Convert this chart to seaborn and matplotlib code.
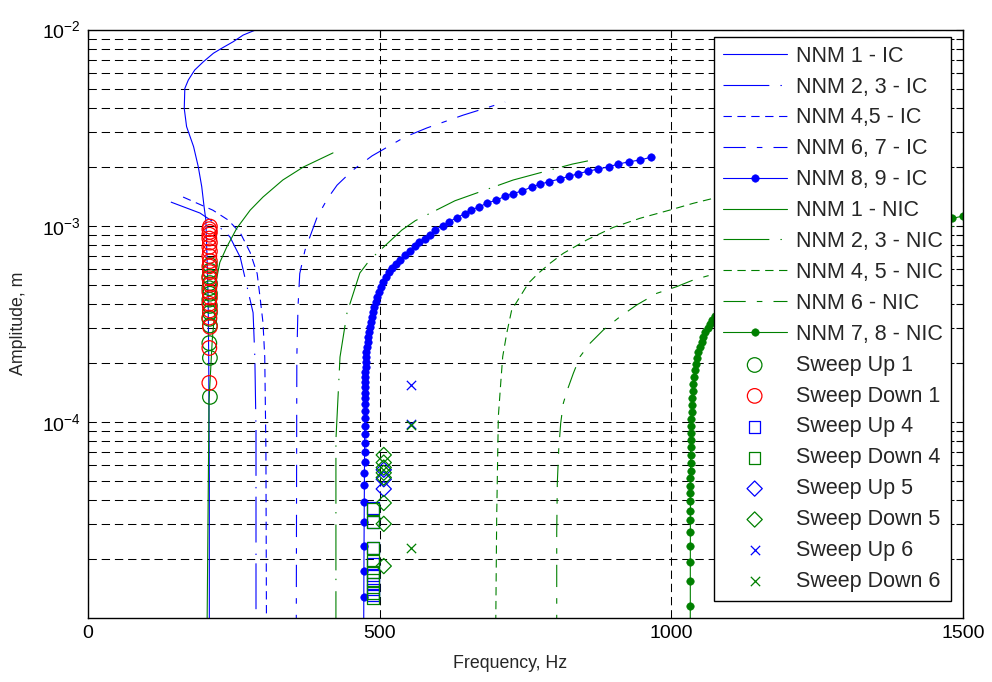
import matplotlib
matplotlib.use("Agg")
import matplotlib.pyplot as plt
import seaborn as sns
import numpy as np
from matplotlib.ticker import FixedLocator, NullFormatter, LogFormatterSciNotation, LogLocator

# ---------------------------------------------------------------
# Backbone curves of the nonlinear normal modes (frequency in Hz,
# response amplitude in m).  IC = internal coupling, NIC = none.
# ---------------------------------------------------------------
nnm1_ic_freq = [208, 208, 207, 206, 204, 202, 199, 195, 189, 181, 169, 165, 166, 172,
                183, 198, 215, 229, 249, 266, 289]
nnm1_ic_amp = [8e-6, 5e-5, 2e-4, 4.2e-4, 7e-4, 1.07e-3, 1.25e-3, 1.58e-3, 2.0e-3, 2.53e-3,
               3.2e-3, 3.96e-3, 5.01e-3, 5.53e-3, 6.22e-3, 6.86e-3, 7.57e-3, 8.02e-3,
               8.67e-3, 9.37e-3, 1.0e-2]

nnm23_ic_freq = [142, 163, 192, 218, 243, 261, 274, 283, 286, 288, 288]
nnm23_ic_amp = [1.32e-3, 1.25e-3, 1.16e-3, 1.03e-3, 8.8e-4, 6.9e-4, 4.7e-4, 3.6e-4,
                2.14e-4, 9.1e-5, 8e-6]

nnm45_ic_freq = [163, 214, 240, 261, 278, 290, 295, 300, 303, 305, 306]
nnm45_ic_amp = [1.40e-3, 1.20e-3, 1.07e-3, 9.2e-4, 7.3e-4, 5.7e-4, 4.3e-4, 3.2e-4,
                2.14e-4, 7.2e-5, 8e-6]

nnm67_ic_freq = [357, 358, 360, 363, 372, 393, 411, 427, 454, 487, 543, 581, 643, 715]
nnm67_ic_amp = [8e-6, 2.14e-4, 3.85e-4, 5.7e-4, 7.5e-4, 1.11e-3, 1.38e-3, 1.61e-3,
                1.92e-3, 2.27e-3, 2.83e-3, 3.15e-3, 3.66e-3, 4.27e-3]

nnm89_ic_freq = [472.6, 472.8, 473.0, 473.2, 473.4, 473.6, 473.8, 473.9, 474.0, 474.1,
                 474.2, 474.3, 474.4, 474.5, 474.6, 474.7, 474.8, 474.9, 475.0, 475.1,
                 475.3, 475.5, 475.8, 476.2, 476.6, 477.4, 478.3, 479.5, 480.5, 481.7,
                 483.4, 485.1, 486.9, 488.6, 490.3, 492.9, 495.4, 498.9, 502.3, 505.7,
                 510.9, 516.0, 521.1, 528.0, 534.9, 543.4, 552.0, 560.6, 568.0, 577.2,
                 586.3, 594.9, 608.6, 619.4, 632.1, 645.8, 657.1, 670.8, 684.5, 699.9,
                 714.3, 728.1, 744.0, 760.6, 774.3, 790.3, 808.6, 824.6, 840.5, 856.6,
                 874.8, 893.2, 909.1, 928.0, 946.3, 964.6]
nnm89_ic_amp = [8e-6, 1.28e-5, 1.74e-5, 2.33e-5, 3.09e-5, 3.91e-5, 4.77e-5, 5.49e-5,
                6.25e-5, 7.02e-5, 7.81e-5, 8.68e-5, 9.53e-5, 1.047e-4, 1.136e-4, 1.234e-4,
                1.324e-4, 1.404e-4, 1.51e-4, 1.60e-4, 1.69e-4, 1.80e-4, 1.90e-4, 2.02e-4,
                2.14e-4, 2.27e-4, 2.41e-4, 2.55e-4, 2.71e-4, 2.87e-4, 3.05e-4, 3.23e-4,
                3.42e-4, 3.63e-4, 3.85e-4, 4.08e-4, 4.33e-4, 4.59e-4, 4.87e-4, 5.16e-4,
                5.48e-4, 5.81e-4, 6.09e-4, 6.38e-4, 6.69e-4, 7.09e-4, 7.43e-4, 7.88e-4,
                8.26e-4, 8.59e-4, 8.99e-4, 9.54e-4, 1.0e-3, 1.048e-3, 1.099e-3, 1.151e-3,
                1.207e-3, 1.245e-3, 1.308e-3, 1.347e-3, 1.412e-3, 1.456e-3, 1.503e-3,
                1.575e-3, 1.626e-3, 1.676e-3, 1.730e-3, 1.786e-3, 1.841e-3, 1.895e-3,
                1.945e-3, 1.998e-3, 2.063e-3, 2.119e-3, 2.162e-3, 2.232e-3]

nnm1_nic_freq = [204, 206, 207.5, 213, 219, 220, 226, 238, 255, 278, 300, 334, 369, 420]
nnm1_nic_amp = [8e-6, 4.0e-5, 1.29e-4, 2.61e-4, 4.18e-4, 5.28e-4, 6.5e-4, 7.8e-4, 9.7e-4,
                1.2e-3, 1.4e-3, 1.71e-3, 1.99e-3, 2.35e-3]

nnm23_nic_freq = [425, 425, 432, 444, 466, 483, 538, 561, 629, 729, 830, 857]
nnm23_nic_amp = [8e-6, 8.1e-5, 2.14e-4, 3.59e-4, 5.74e-4, 6.69e-4, 9.5e-4, 1.06e-3,
                 1.34e-3, 1.71e-3, 2.06e-3, 2.14e-3]

nnm45_nic_freq = [698.8, 700.6, 703.4, 707.5, 710.9, 717.8, 726.3, 740.6, 754.8, 772.0,
                  792.0, 814.8, 855.0, 900.5, 946.3, 997.7, 1037.7, 1072, 1152, 1255, 1358]
nnm45_nic_amp = [8e-6, 3.29e-5, 1.063e-4, 1.573e-4, 2.149e-4, 2.828e-4, 3.717e-4, 4.345e-4,
                 5.085e-4, 5.72e-4, 6.43e-4, 7.23e-4, 8.46e-4, 9.81e-4, 1.091e-3, 1.202e-3,
                 1.301e-3, 1.379e-3, 1.556e-3, 1.75e-3, 1.92e-3]

nnm6_nic_freq = [803.5, 803.5, 804.5, 806.9, 810.3, 814.8, 821.7, 832.0, 843.4, 860.6,
                 883.4, 912.0, 940.6, 974.9, 1009.2, 1037.7, 1077.8, 1186, 1306, 1409, 1500]
nnm6_nic_amp = [8e-6, 2.705e-5, 4.866e-5, 7.19e-5, 9.84e-5, 1.244e-4, 1.454e-4, 1.769e-4,
                2.149e-4, 2.515e-4, 2.94e-4, 3.436e-4, 3.943e-4, 4.52e-4, 4.89e-4, 5.29e-4,
                5.72e-4, 6.84e-4, 8.07e-4, 9.18e-4, 1.009e-3]

nnm78_nic_freq = [1032.3, 1032.5, 1032.5, 1032.5, 1032.6, 1032.6, 1032.6, 1032.7, 1032.7,
                  1032.7, 1032.8, 1032.8, 1032.9, 1032.9, 1033.0, 1033.1, 1033.2, 1033.4,
                  1033.7, 1034.1, 1034.6, 1035.1, 1035.8, 1036.6, 1037.7, 1038.9, 1040.5,
                  1042.2, 1044.2, 1046.5, 1049.0, 1052.0, 1055.0, 1058.5, 1062.3, 1066.3,
                  1070.5, 1074.8, 1080.0, 1092, 1109, 1135, 1169, 1212, 1263, 1323, 1383,
                  1435, 1481, 1500]
nnm78_nic_amp = [8e-6, 1.157e-5, 1.551e-5, 1.939e-5, 2.339e-5, 2.738e-5, 3.162e-5, 3.526e-5,
                 3.939e-5, 4.326e-5, 4.713e-5, 5.16e-5, 5.64e-5, 6.15e-5, 6.78e-5, 7.45e-5,
                 8.09e-5, 8.78e-5, 9.53e-5, 1.034e-4, 1.123e-4, 1.219e-4, 1.323e-4, 1.437e-4,
                 1.560e-4, 1.694e-4, 1.839e-4, 1.972e-4, 2.117e-4, 2.272e-4, 2.408e-4,
                 2.554e-4, 2.708e-4, 2.872e-4, 3.010e-4, 3.155e-4, 3.306e-4, 3.465e-4,
                 3.632e-4, 3.99e-4, 4.54e-4, 5.29e-4, 6.31e-4, 7.35e-4, 8.46e-4, 9.29e-4,
                 9.96e-4, 1.044e-3, 1.089e-3, 1.12e-3]

# ---------------------------------------------------------------
# Measured sine-sweep responses
# ---------------------------------------------------------------
sweep_up1_freq = [209, 209, 208, 209, 208, 209, 208, 209, 209, 208, 209, 208, 209, 209]
sweep_up1_amp = [6.3e-4, 5.9e-4, 5.5e-4, 5.1e-4, 4.8e-4, 4.5e-4, 4.2e-4, 3.9e-4, 3.6e-4,
                 3.35e-4, 3.1e-4, 2.52e-4, 2.12e-4, 1.34e-4]
sweep_down1_freq = [209, 208, 209, 208, 208, 209, 208, 209, 208, 209, 208, 209, 208, 209,
                    208, 209, 208, 209, 208, 209, 208, 208]
sweep_down1_amp = [9.9e-4, 9.6e-4, 9.3e-4, 9.0e-4, 8.6e-4, 8.2e-4, 7.8e-4, 7.4e-4, 7.0e-4,
                   6.6e-4, 6.2e-4, 5.8e-4, 5.4e-4, 5.0e-4, 4.6e-4, 4.3e-4, 4.0e-4, 3.7e-4,
                   3.4e-4, 3.05e-4, 2.38e-4, 1.58e-4]
sweep_up4_freq = [489, 489, 489, 489, 489, 489, 489, 489]
sweep_up4_amp = [3.64e-5, 3.09e-5, 2.28e-5, 1.9e-5, 1.65e-5, 1.5e-5, 1.4e-5, 1.3e-5]
sweep_down4_freq = [489, 489, 489, 489, 489, 489, 489, 489]
sweep_down4_amp = [3.6e-5, 3.09e-5, 2.28e-5, 1.95e-5, 1.72e-5, 1.56e-5, 1.34e-5, 1.26e-5]
sweep_up5_freq = [507, 507, 507]
sweep_up5_amp = [5.7e-5, 5.1e-5, 4.55e-5]
sweep_down5_freq = [507, 507, 507, 507, 507, 507, 507, 507]
sweep_down5_amp = [6.78e-5, 6.2e-5, 5.85e-5, 5.5e-5, 5.2e-5, 3.86e-5, 3.02e-5, 1.84e-5]
sweep_up6_freq = [554, 554]
sweep_up6_amp = [1.55e-4, 9.8e-5]
sweep_down6_freq = [554, 554]
sweep_down6_amp = [9.6e-5, 2.28e-5]

BLUE = "#0000FF"
GREEN = "#008000"
RED = "#FF0000"

sns.set_style("white")
plt.rcParams["font.family"] = ["Liberation Sans", "DejaVu Sans"]
plt.rcParams["mathtext.fontset"] = "custom"
plt.rcParams["mathtext.rm"] = "Liberation Sans"
plt.rcParams["mathtext.it"] = "Liberation Sans:italic"
plt.rcParams["mathtext.bf"] = "Liberation Sans:bold"
plt.rcParams["axes.unicode_minus"] = False
plt.rcParams["lines.scale_dashes"] = False

fig = plt.figure(figsize=(9.92, 6.82), dpi=100)
ax = fig.add_axes([0.0887, 0.0938, 0.8821, 0.8629])
ax.set_yscale("log")

LONG_DOT = (0, (33, 8, 1, 6))
SHORT_DASH = (0, (6, 4))
DASH_DASH = (0, (16, 8, 4, 8))


def backbone(freq, amp, color, style, label, dots=False):
    kw = dict(x=freq, y=amp, ax=ax, sort=False, estimator=None, color=color,
              linewidth=0.8, linestyle=style, label=label)
    if dots:
        kw.update(marker="o", markersize=5.4, markerfacecolor=color,
                  markeredgecolor=color, markeredgewidth=0.4)
    sns.lineplot(**kw)


def sweep(freq, amp, color, marker, size, label, open_marker=True):
    if open_marker:
        sns.scatterplot(x=freq, y=amp, ax=ax, marker=marker, s=size, color=color,
                        facecolor="none", edgecolor=color, linewidth=0.9,
                        label=label, zorder=3)
    else:
        sns.scatterplot(x=freq, y=amp, ax=ax, marker=marker, s=size, color=color,
                        linewidth=0.9, label=label, zorder=3)


backbone(nnm1_ic_freq, nnm1_ic_amp, BLUE, "-", "NNM 1 - IC")
backbone(nnm23_ic_freq, nnm23_ic_amp, BLUE, LONG_DOT, "NNM 2, 3 - IC")
backbone(nnm45_ic_freq, nnm45_ic_amp, BLUE, SHORT_DASH, "NNM 4,5 - IC")
backbone(nnm67_ic_freq, nnm67_ic_amp, BLUE, DASH_DASH, "NNM 6, 7 - IC")
backbone(nnm89_ic_freq, nnm89_ic_amp, BLUE, "-", "NNM 8, 9 - IC", dots=True)
backbone(nnm1_nic_freq, nnm1_nic_amp, GREEN, "-", "NNM 1 - NIC")
backbone(nnm23_nic_freq, nnm23_nic_amp, GREEN, LONG_DOT, "NNM 2, 3 - NIC")
backbone(nnm45_nic_freq, nnm45_nic_amp, GREEN, SHORT_DASH, "NNM 4, 5 - NIC")
backbone(nnm6_nic_freq, nnm6_nic_amp, GREEN, DASH_DASH, "NNM 6 - NIC")
backbone(nnm78_nic_freq, nnm78_nic_amp, GREEN, "-", "NNM 7, 8 - NIC", dots=True)

sweep(sweep_up1_freq, sweep_up1_amp, GREEN, "o", 110, "Sweep Up 1")
sweep(sweep_down1_freq, sweep_down1_amp, RED, "o", 110, "Sweep Down 1")
sweep(sweep_up4_freq, sweep_up4_amp, BLUE, "s", 70, "Sweep Up 4")
sweep(sweep_down4_freq, sweep_down4_amp, GREEN, "s", 70, "Sweep Down 4")
sweep(sweep_up5_freq, sweep_up5_amp, BLUE, "D", 60, "Sweep Up 5")
sweep(sweep_down5_freq, sweep_down5_amp, GREEN, "D", 60, "Sweep Down 5")
sweep(sweep_up6_freq, sweep_up6_amp, BLUE, "x", 45, "Sweep Up 6", open_marker=False)
sweep(sweep_down6_freq, sweep_down6_amp, GREEN, "x", 45, "Sweep Down 6", open_marker=False)

# Axes, ticks and MATLAB-like dashed grid
ax.set_xlim(0, 1500)
ax.set_ylim(1e-5, 1e-2)
ax.xaxis.set_major_locator(FixedLocator([0, 500, 1000, 1500]))
ax.yaxis.set_major_locator(FixedLocator([1e-4, 1e-3, 1e-2]))
ax.yaxis.set_major_formatter(LogFormatterSciNotation())
ax.yaxis.set_minor_locator(LogLocator(base=10, subs=np.arange(2, 10), numticks=20))
ax.yaxis.set_minor_formatter(NullFormatter())
ax.set_axisbelow(True)
grid_kw = dict(color="black", linewidth=0.75, linestyle=(0, (6, 3.5)))
ax.grid(True, which="major", axis="both", **grid_kw)
ax.grid(True, which="minor", axis="y", **grid_kw)
ax.tick_params(which="both", direction="in", top=True, right=True, length=5,
               width=0.8, colors="black", labelsize=14, pad=5)
for spine in ax.spines.values():
    spine.set_color("black")
    spine.set_linewidth(1.0)

ax.set_xlabel("Frequency, Hz", fontsize=12.8)
ax.set_ylabel("Amplitude, m", fontsize=12.8)
ax.xaxis.set_label_coords(0.482, -0.062)
ax.yaxis.set_label_coords(-0.07, 0.5)

handles, labels = ax.get_legend_handles_labels()
leg = ax.legend(handles, labels, loc="upper right", bbox_to_anchor=(0.9863, 0.9873),
                borderaxespad=0, fontsize=15.5, labelspacing=0.46, handlelength=2.96,
                handletextpad=0.42, borderpad=0.4, frameon=True, fancybox=False,
                edgecolor="black", framealpha=1.0)
leg.get_frame().set_linewidth(1.0)

fig.savefig("out.png", dpi=100)
